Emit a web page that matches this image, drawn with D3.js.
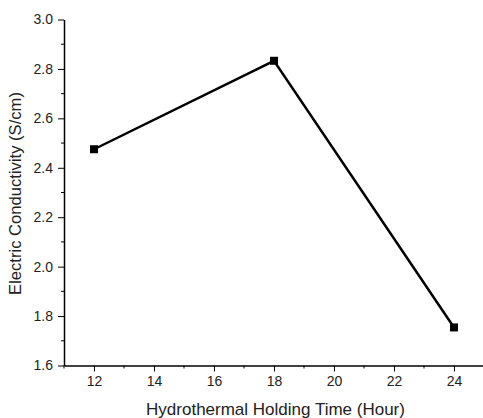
<!DOCTYPE html>
<html><head><meta charset="utf-8">
<script src="https://cdn.jsdelivr.net/npm/d3@7"></script>
<style>body{margin:0;background:#fff}svg{display:block}text{font-family:"Liberation Sans",Arial,sans-serif}</style>
</head><body>
<script>
const hours = [12, 18, 24];
const conductivity = [2.475, 2.833, 1.754];
const xTicks = [12, 14, 16, 18, 20, 22, 24];
const yTicks = [1.6, 1.8, 2.0, 2.2, 2.4, 2.6, 2.8, 3.0];
const xTitle = "Hydrothermal Holding Time (Hour)";
const yTitle = "Electric Conductivity (S/cm)";

const W = 483, H = 418;
const svg = d3.select("body").append("svg").attr("width", W).attr("height", H);
const x = d3.scaleLinear().domain([11, 25]).range([64, 484]);
const y = d3.scaleLinear().domain([1.6, 3.0]).range([365.5, 19.5]);

const xMinor = d3.range(11, 25.01, 1).filter(v => !xTicks.includes(v));
const yMinor = d3.range(1.7, 3.0, 0.2).map(v => +v.toFixed(1));

const gx = svg.append("g").attr("transform", `translate(0,${y(1.6)})`);
gx.call(d3.axisBottom(x).tickValues(xTicks).tickFormat(d3.format("d")).tickSize(6).tickSizeOuter(0).tickPadding(5));
gx.selectAll(".minor").data(xMinor).enter().append("line").attr("class","minor")
  .attr("x1", d => x(d)).attr("x2", d => x(d)).attr("y1", 0).attr("y2", 3).attr("stroke", "#000");

const gy = svg.append("g").attr("transform", `translate(${x(11)},0)`);
gy.call(d3.axisLeft(y).tickValues(yTicks).tickFormat(d3.format(".1f")).tickSize(6).tickSizeOuter(0).tickPadding(5));
gy.selectAll(".minor").data(yMinor).enter().append("line").attr("class","minor")
  .attr("y1", d => y(d)).attr("y2", d => y(d)).attr("x1", 0).attr("x2", -3).attr("stroke", "#000");

svg.selectAll(".domain").attr("stroke", "#000").attr("stroke-width", 1.5);
svg.selectAll(".tick line").attr("stroke", "#000");
svg.selectAll(".tick text").attr("font-size", 14).attr("fill", "#222").style("font-family", '"Liberation Sans",Arial,sans-serif');

const pts = hours.map((h, i) => [h, conductivity[i]]);
svg.append("path").datum(pts)
  .attr("d", d3.line().x(d => x(d[0])).y(d => y(d[1])))
  .attr("fill", "none").attr("stroke", "#000").attr("stroke-width", 2.5);
svg.selectAll(".pt").data(pts).enter().append("rect").attr("class","pt")
  .attr("x", d => x(d[0]) - 4).attr("y", d => y(d[1]) - 4).attr("width", 8).attr("height", 8).attr("fill", "#000");

svg.append("text").attr("x", 275.5).attr("y", 415).attr("text-anchor", "middle")
  .attr("font-size", 17).attr("fill", "#222").text(xTitle);
svg.append("text").attr("transform", `translate(21,193.5) rotate(-90)`).attr("text-anchor", "middle")
  .attr("font-size", 16.6).attr("fill", "#222").text(yTitle);
</script>
</body></html>
